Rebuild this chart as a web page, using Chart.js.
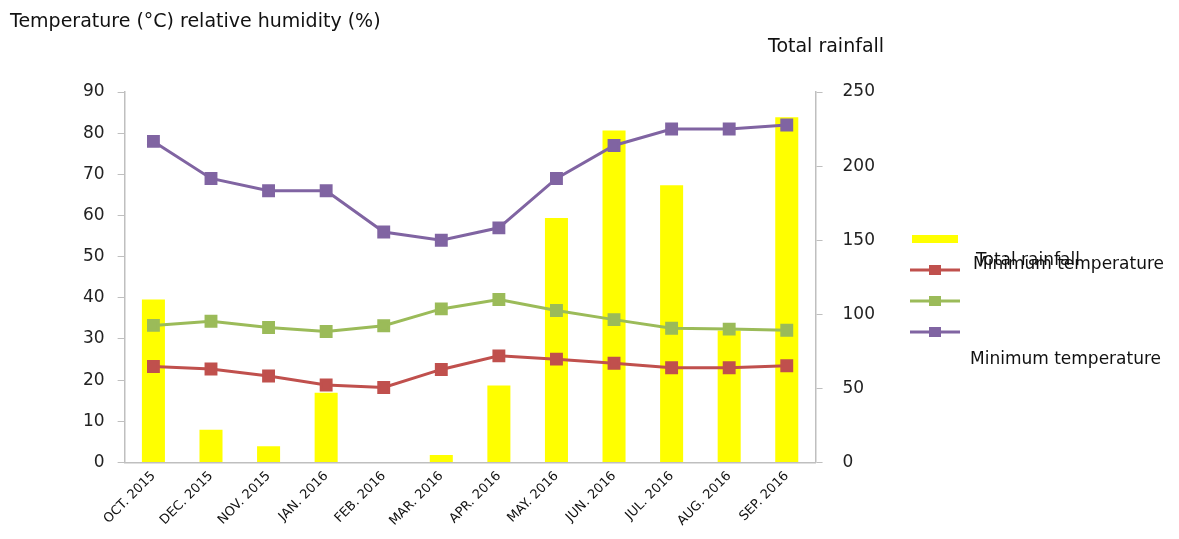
<!DOCTYPE html>
<html>
<head>
<meta charset="utf-8">
<script src="https://cdn.jsdelivr.net/npm/chart.js@4/dist/chart.umd.min.js"></script>
<style>
  html, body { margin: 0; padding: 0; background: #fff; }
  #wrap { width: 1179px; height: 539px; }
</style>
</head>
<body>
<div id="wrap"><canvas id="climateChart" width="1179" height="539"></canvas></div>
<script>
// month labels as printed on the original chart
const months = ['OCT. 2015', 'DEC. 2015', 'NOV. 2015', 'JAN. 2016', 'FEB. 2016', 'MAR. 2016',
  'APR. 2016', 'MAY. 2016', 'JUN. 2016', 'JUL. 2016', 'AUG. 2016', 'SEP. 2016'];

// rainfall (right axis), mm
const rainfall = [110, 22, 11, 47, 0, 5, 52, 165, 224, 187, 89, 233];
// temperatures and humidity (left axis)
const minTemp = [23.3, 22.7, 21.0, 18.8, 18.2, 22.6, 25.9, 25.1, 24.1, 23.0, 23.0, 23.5];
const maxTemp = [33.3, 34.3, 32.8, 31.8, 33.2, 37.3, 39.6, 36.9, 34.7, 32.6, 32.4, 32.1];
const humidity = [78, 69, 66, 66, 56, 54, 57, 69, 77, 81, 81, 82];

const leftTicks = [0, 10, 20, 30, 40, 50, 60, 70, 80, 90];
const rightTicks = [0, 50, 100, 150, 200, 250];

const FONT = 'DejaVu Sans';
const axisGrey = '#bfbfbf';

// titles and the (oddly laid out) legend of the original
const extras = {
  id: 'extras',
  afterDraw(chart) {
    const c = chart.ctx;
    c.save();
    c.fillStyle = '#111';
    c.textBaseline = 'middle';
    c.font = '19px ' + FONT;
    c.fillText('Temperature (°C) relative humidity (%)', 10, 22);
    c.fillText('Total rainfall', 768, 47);

    c.font = '17px ' + FONT;
    // rainfall swatch
    c.fillStyle = '#ffff00';
    c.fillRect(912, 235, 46, 8);
    // line swatches
    const sw = [
      { y: 270, col: '#c0504d' },
      { y: 301, col: '#9bbb59' },
      { y: 332, col: '#8064a2' }
    ];
    sw.forEach(s => {
      c.strokeStyle = s.col;
      c.lineWidth = 3;
      c.beginPath();
      c.moveTo(910, s.y);
      c.lineTo(960, s.y);
      c.stroke();
      c.fillStyle = s.col;
      c.fillRect(929, s.y - 5, 12, 10);
    });
    c.fillStyle = '#111';
    c.fillText('Total rainfall', 976, 261);
    c.fillText('Minimum temperature', 973, 265);
    c.fillText('Minimum temperature', 970, 360);
    c.restore();
  }
};

new Chart(document.getElementById('climateChart'), {
  data: {
    labels: months,
    datasets: [
      {
        type: 'line', label: 'Minimum temperature', data: minTemp, yAxisID: 'y',
        borderColor: '#c0504d', backgroundColor: '#c0504d', borderWidth: 3,
        pointStyle: 'rect', pointRadius: 7, order: 1
      },
      {
        type: 'line', label: '', data: maxTemp, yAxisID: 'y',
        borderColor: '#9bbb59', backgroundColor: '#9bbb59', borderWidth: 3,
        pointStyle: 'rect', pointRadius: 7, order: 1
      },
      {
        type: 'line', label: 'Minimum temperature', data: humidity, yAxisID: 'y',
        borderColor: '#8064a2', backgroundColor: '#8064a2', borderWidth: 3,
        pointStyle: 'rect', pointRadius: 7, order: 1
      },
      {
        type: 'bar', label: 'Total rainfall', data: rainfall, yAxisID: 'y1',
        backgroundColor: '#ffff00', barPercentage: 0.4, categoryPercentage: 1, order: 5
      }
    ]
  },
  options: {
    responsive: false,
    animation: false,
    layout: { padding: { left: 70, right: 284, top: 92, bottom: 4 } },
    plugins: { legend: { display: false }, tooltip: { enabled: false } },
    scales: {
      x: {
        grid: { display: false, drawTicks: false },
        border: { color: axisGrey, width: 1.5 },
        ticks: {
          color: '#111', font: { family: FONT, size: 13 },
          maxRotation: 45, minRotation: 45, padding: 6, autoSkip: false
        }
      },
      y: {
        position: 'left', min: 0, max: 90,
        afterBuildTicks: s => { s.ticks = leftTicks.map(v => ({ value: v })); },
        grid: { drawOnChartArea: false, color: axisGrey, tickLength: 7 },
        border: { color: axisGrey, width: 1.5 },
        ticks: { color: '#222', font: { family: FONT, size: 17 }, padding: 13 }
      },
      y1: {
        position: 'right', min: 0, max: 250,
        afterBuildTicks: s => { s.ticks = rightTicks.map(v => ({ value: v })); },
        grid: { drawOnChartArea: false, color: axisGrey, tickLength: 7 },
        border: { color: axisGrey, width: 1.5 },
        ticks: { color: '#222', font: { family: FONT, size: 17 }, padding: 20 }
      }
    }
  },
  plugins: [extras]
});
</script>
</body>
</html>
